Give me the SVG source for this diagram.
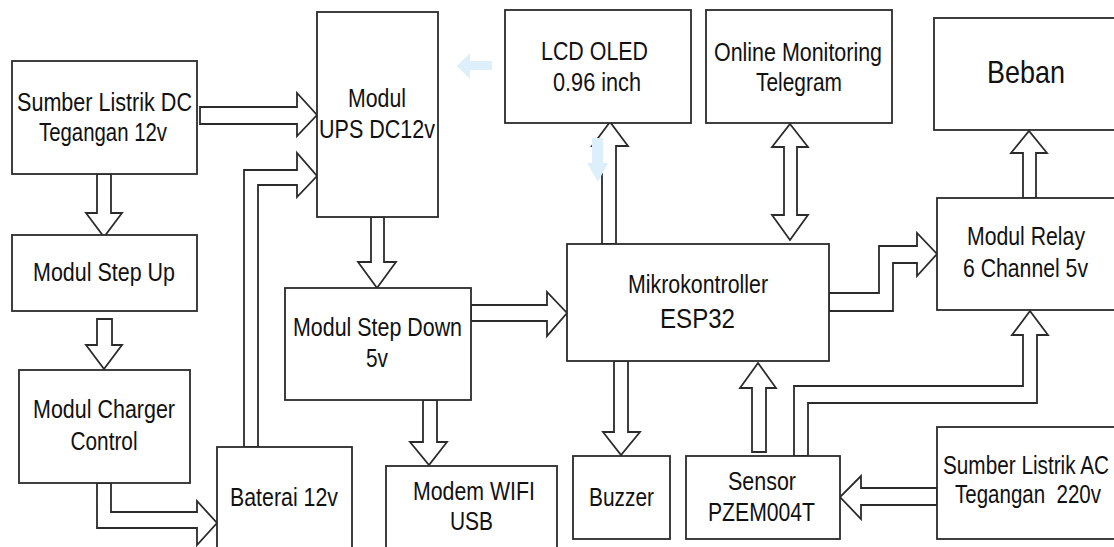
<svg xmlns="http://www.w3.org/2000/svg" width="1114" height="547" viewBox="0 0 1114 547">
<style>
.box{fill:#fff;stroke:#2b2b2b;stroke-width:1.8}
.arr{fill:#fff;stroke:#2b2b2b;stroke-width:1.8;stroke-linejoin:miter}
.ghost{fill:#dcefFB;stroke:none}
text{font-family:"Liberation Sans",Arial,sans-serif;font-size:25px;fill:#111;text-anchor:middle}
</style>
<rect width="1114" height="547" fill="#fff"/>
<g id="connectors">
<polygon class="arr" points="200,107 297,107 297,93 317,115 297,136 297,124 200,124"/>
<polygon class="arr" points="244,447 244,170 297,170 297,153 317,176 297,197 297,185 258,185 258,447"/>
<polygon class="arr" points="97,174 97,213 86,213 104,237 122,213 111,213 111,174"/>
<polygon class="arr" points="97,319 97,345 86,345 104,369 122,345 112,345 112,319"/>
<polygon class="arr" points="97,483 97,528 197,528 197,545 217,523 197,501 197,512 111,512 111,483"/>
<polygon class="arr" points="371,217 371,262 358,262 377,288 396,262 384,262 384,217"/>
<polygon class="arr" points="423,400 423,442 410,442 429,465 447,442 437,442 437,400"/>
<polygon class="arr" points="471,305 547,305 547,292 567,313 547,336 547,321 471,321"/>
<polygon class="arr" points="602,244 602,146 592,146 610,122 628,146 616,146 616,244"/>
<polygon class="arr" points="790,124 808,147 797,147 797,215 808,215 790,240 772,215 784,215 784,147 772,147"/>
<polygon class="arr" points="829,293 879,293 879,246 917,246 917,233 937,254 917,276 917,263 893,263 893,311 829,311"/>
<polygon class="arr" points="1023,198 1023,153 1011,153 1029,131 1047,153 1036,153 1036,198"/>
<polygon class="arr" points="794,456 794,386 1023,386 1023,335 1012,335 1030,311 1048,335 1037,335 1037,403 808,403 808,456"/>
<polygon class="arr" points="752,452 752,388 740,388 758,363 776,388 766,388 766,452"/>
<polygon class="arr" points="614,361 614,432 603,432 621,455 640,432 628,432 628,361"/>
<polygon class="arr" points="937,488 861,488 861,476 840,497 861,519 861,505 937,505"/>
<polygon class="ghost" points="457,66 470,53 470,61 492,61 492,70 470,70 470,79"/>
<polygon class="ghost" points="592,138 603,138 603,163 608,163 598,182 587,163 592,163"/>
</g>
<g id="sumber-dc"><rect class="box" x="12" y="61" width="185" height="113"/>
<text x="104.5" y="111" textLength="175" lengthAdjust="spacingAndGlyphs">Sumber Listrik DC</text>
<text x="103" y="141" textLength="128" lengthAdjust="spacingAndGlyphs">Tegangan 12v</text></g>
<g id="ups"><rect class="box" x="317" y="12" width="121" height="205"/>
<text x="377" y="107" textLength="58" lengthAdjust="spacingAndGlyphs">Modul</text>
<text x="377" y="138" textLength="116" lengthAdjust="spacingAndGlyphs">UPS DC12v</text></g>
<g id="step-up"><rect class="box" x="12" y="235" width="185" height="76"/>
<text x="104" y="281" textLength="142" lengthAdjust="spacingAndGlyphs">Modul Step Up</text></g>
<g id="charger"><rect class="box" x="19" y="370" width="171" height="113"/>
<text x="104" y="418" textLength="142" lengthAdjust="spacingAndGlyphs">Modul Charger</text>
<text x="104" y="450" textLength="67" lengthAdjust="spacingAndGlyphs">Control</text></g>
<g id="baterai"><rect class="box" x="217" y="447" width="135" height="115"/>
<text x="284" y="506" textLength="108" lengthAdjust="spacingAndGlyphs">Baterai 12v</text></g>
<g id="step-down"><rect class="box" x="285" y="288" width="186" height="112"/>
<text x="377.5" y="336" textLength="169" lengthAdjust="spacingAndGlyphs">Modul Step Down</text>
<text x="377" y="367" textLength="22" lengthAdjust="spacingAndGlyphs">5v</text></g>
<g id="modem"><rect class="box" x="386" y="466" width="171" height="96"/>
<text x="474" y="500" textLength="122" lengthAdjust="spacingAndGlyphs">Modem WIFI</text>
<text x="471.5" y="530" textLength="43" lengthAdjust="spacingAndGlyphs">USB</text></g>
<g id="lcd"><rect class="box" x="505" y="10" width="186" height="113"/>
<text x="594.5" y="60" textLength="107" lengthAdjust="spacingAndGlyphs">LCD OLED</text>
<text x="597" y="91" textLength="88" lengthAdjust="spacingAndGlyphs">0.96 inch</text></g>
<g id="telegram"><rect class="box" x="706" y="10" width="186" height="113"/>
<text x="798" y="61" textLength="168" lengthAdjust="spacingAndGlyphs">Online Monitoring</text>
<text x="799" y="91" textLength="86" lengthAdjust="spacingAndGlyphs">Telegram</text></g>
<g id="beban"><rect class="box" x="934" y="18" width="200" height="112"/>
<text x="1026" y="83" style="font-size:32px" textLength="78" lengthAdjust="spacingAndGlyphs">Beban</text></g>
<g id="esp32"><rect class="box" x="567" y="244" width="262" height="117"/>
<text x="698" y="293" textLength="140" lengthAdjust="spacingAndGlyphs">Mikrokontroller</text>
<text x="697.5" y="328" style="font-size:28px" textLength="75" lengthAdjust="spacingAndGlyphs">ESP32</text></g>
<g id="relay"><rect class="box" x="937" y="198" width="200" height="112"/>
<text x="1026" y="245" textLength="118" lengthAdjust="spacingAndGlyphs">Modul Relay</text>
<text x="1025.5" y="277" textLength="125" lengthAdjust="spacingAndGlyphs">6 Channel 5v</text></g>
<g id="buzzer"><rect class="box" x="573" y="456" width="97" height="83"/>
<text x="621.5" y="506" textLength="65" lengthAdjust="spacingAndGlyphs">Buzzer</text></g>
<g id="sensor"><rect class="box" x="686" y="456" width="154" height="83"/>
<text x="762" y="490" textLength="68" lengthAdjust="spacingAndGlyphs">Sensor</text>
<text x="761.5" y="521" textLength="107" lengthAdjust="spacingAndGlyphs">PZEM004T</text></g>
<g id="sumber-ac"><rect class="box" x="937" y="427" width="200" height="112"/>
<text x="1026" y="474" textLength="166" lengthAdjust="spacingAndGlyphs">Sumber Listrik AC</text>
<text x="1028" y="503" style="white-space:pre" textLength="146" lengthAdjust="spacingAndGlyphs">Tegangan  220v</text></g>
</svg>
